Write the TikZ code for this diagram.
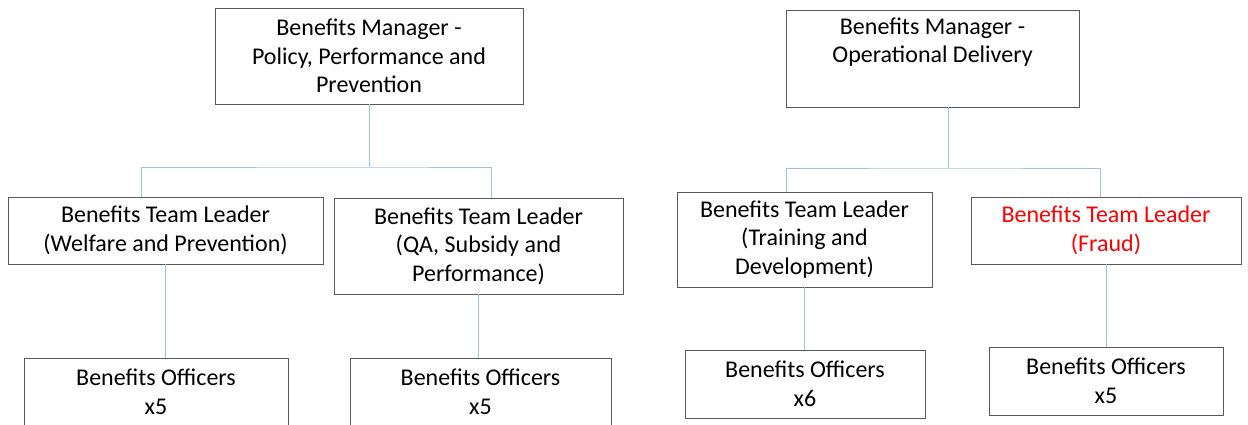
\documentclass[tikz,border=0pt]{standalone}
\usepackage{fontspec}
\setmainfont{Carlito}
\usetikzlibrary{positioning}

\begin{document}
\begin{tikzpicture}[x=1pt, y=-1pt]
		\tikzstyle{post}=[rectangle, draw=black!65, line width=0.9pt, align=center, inner sep=0pt, font=\fontsize{24}{28.5}\selectfont]
		\tikzstyle{link}=[line width=0.8pt, draw={rgb,255:red,157;green,195;blue,230}]
		\clip (0,0) rectangle (1248,425);
		\fill[white] (0,0) rectangle (1248,425);
		% managers
		\node[post, minimum width=308pt, minimum height=96pt] (mgrP) at (369,56) {Benefits Manager -\\Policy, Performance and\\Prevention};
		\node[post, minimum width=293pt, minimum height=97pt] (mgrO) at (932.5,58.5) {Benefits Manager -\\Operational Delivery\\\strut};
		% team leaders
		\node[post, minimum width=315pt, minimum height=67pt] (tlW) at (165.5,230.5) {Benefits Team Leader\\(Welfare and Prevention)};
		\node[post, minimum width=289pt, minimum height=96pt] (tlQ) at (478.5,246) {Benefits Team Leader\\(QA, Subsidy and\\Performance)};
		\node[post, minimum width=255pt, minimum height=95pt] (tlT) at (804.5,239.5) {Benefits Team Leader\\(Training and\\Development)};
		\node[post, minimum width=270pt, minimum height=67pt, text=red] (tlF) at (1106,230.5) {Benefits Team Leader\\(Fraud)};
		% officers
		\node[post, minimum width=264pt, minimum height=68pt] (offW) at (156,392) {Benefits Officers\\x5};
		\node[post, minimum width=261pt, minimum height=68pt] (offQ) at (480.5,392) {Benefits Officers\\x5};
		\node[post, minimum width=240pt, minimum height=68pt] (offT) at (805,384) {Benefits Officers\\x6};
		\node[post, minimum width=234pt, minimum height=68pt] (offF) at (1106,381) {Benefits Officers\\x5};
		\coordinate (joinP) at (369,167);
		\coordinate (joinO) at (948,168);
		\path[link]
		(mgrP.south) -- (joinP)
		([xshift=-24.5pt]tlW.north) |- (joinP) -| ([xshift=12.5pt]tlQ.north)
		([xshift=15.5pt]mgrO.south) -- (joinO)
		([xshift=-18.5pt]tlT.north) |- (joinO) -| ([xshift=-6pt]tlF.north)
		(tlW.south) -- (tlW.south |- offW.north)
		(tlQ.south) -- (tlQ.south |- offQ.north)
		(tlT.south) -- (tlT.south |- offT.north)
		(tlF.south) -- (tlF.south |- offF.north)
		;
	\end{tikzpicture}
\end{document}
